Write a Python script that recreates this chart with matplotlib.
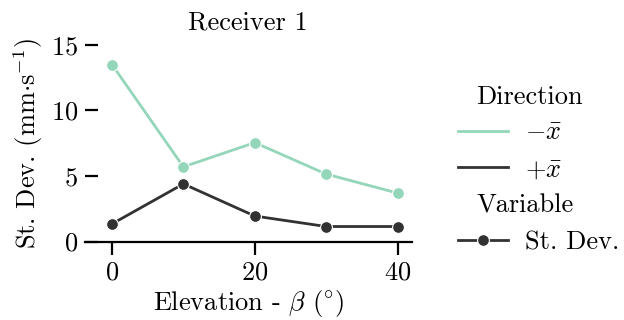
import matplotlib
matplotlib.use('Agg')
import matplotlib.pyplot as plt
from matplotlib.lines import Line2D

# --- Datos ---
elevation = [0, 10, 20, 30, 40]
std_minus = [13.5, 5.7, 7.55, 5.15, 3.7]
std_plus = [1.35, 4.4, 1.95, 1.15, 1.15]
direction_labels = [r'$-\bar{x}$', r'$+\bar{x}$']
colors = ['#94d6b9', '#323232']

# --- Estilo ---
plt.rcParams['font.family'] = 'serif'
plt.rcParams['font.serif'] = ['cmr10']
plt.rcParams['mathtext.fontset'] = 'cm'
plt.rcParams['axes.formatter.use_mathtext'] = True
plt.rcParams['font.size'] = 19

fig = plt.figure(figsize=(6.24, 3.2), dpi=100)
ax = fig.add_axes([0.136, 0.245, 0.524, 0.6147])

for vals, c in zip([std_minus, std_plus], colors):
    ax.plot(elevation, vals, color=c, lw=2.0, marker='o', ms=8.5,
            mec='white', mew=0.8, clip_on=False)

ax.set_xlim(-3.8, 42)
ax.set_ylim(0, 15)
ax.set_xticks([0, 20, 40])
ax.set_yticks([0, 5, 10, 15])
for s in ['top', 'right', 'left']:
    ax.spines[s].set_visible(False)
ax.spines['bottom'].set_linewidth(1.6)
ax.tick_params(axis='x', direction='out', length=9, width=1.6, pad=5)
ax.tick_params(axis='y', direction='in', length=9, width=1.6, pad=5)

ax.set_title('Receiver 1', fontsize=19, pad=11)
ax.set_xlabel(r'Elevation - $\beta$ ($^{\circ}$)', labelpad=2)
ax.set_ylabel(r'St. Dev. (mm$\cdot$s$^{-1}$)', labelpad=4)

# Leyenda estilo seaborn
blank = Line2D([], [], color='none')
handles = [blank,
           Line2D([], [], color=colors[0], lw=2.0),
           Line2D([], [], color=colors[1], lw=2.0),
           blank,
           Line2D([], [], color=colors[1], lw=2.0, marker='o', ms=8.5, mec='white', mew=0.8)]
labels = ['Direction', direction_labels[0], direction_labels[1], 'Variable', 'St. Dev.']
leg = fig.legend(handles, labels, loc='center left', bbox_to_anchor=(0.696, 0.47),
                 frameon=False, handlelength=1.9, handletextpad=0.65, labelspacing=0.48)
for i in [0, 3]:
    t = leg.get_texts()[i]
    t.set_ha('center')
    t.set_position((-49, 0))

plt.savefig('out.png', dpi=100)
plt.close()
